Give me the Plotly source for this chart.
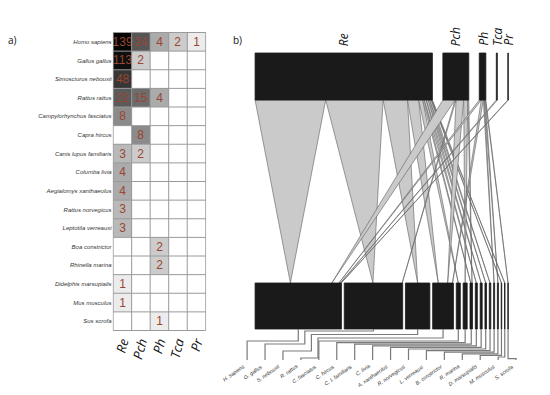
import numpy as np
import plotly.graph_objects as go

# ---------------- data ----------------
hosts = ["Homo sapiens", "Gallus gallus", "Simosciurus nebouxii", "Rattus rattus",
         "Campylorhynchus fasciatus", "Capra hircus", "Canis lupus familiaris",
         "Columba livia", "Aegialomys xanthaeolus", "Rattus norvegicus",
         "Leptotila verreauxi", "Boa constrictor", "Rhinella marina",
         "Didelphis marsupialis", "Mus musculus", "Sus scrofa"]
host_abbr = ["H. sapiens", "G. gallus", "S. nebouxii", "R. rattus", "C. fasciatus",
             "C. hircus", "C. l. familiaris", "C. livia", "A. xanthaeolus",
             "R. norvegicus", "L. verreauxi", "B. constrictor", "R. marina",
             "D. marsupialis", "M. musculus", "S. scrofa"]
groups = ["Re", "Pch", "Ph", "Tca", "Pr"]
re_vals = [139, 113, 48, 22, 8, 0, 3, 4, 4, 3, 3, 0, 0, 1, 1, 0]
pch_vals = [24, 2, 0, 15, 0, 8, 2, 0, 0, 0, 0, 0, 0, 0, 0, 0]
ph_vals = [4, 0, 0, 4, 0, 0, 0, 0, 0, 0, 0, 2, 2, 0, 0, 1]
tca_vals = [2, 0, 0, 0, 0, 0, 0, 0, 0, 0, 0, 0, 0, 0, 0, 0]
pr_vals = [1, 0, 0, 0, 0, 0, 0, 0, 0, 0, 0, 0, 0, 0, 0, 0]

M = np.array([re_vals, pch_vals, ph_vals, tca_vals, pr_vals], dtype=float).T  # hosts x groups
nH, nG = M.shape

# page is 550x395; the html body has an 8px margin, so the figure sits at (8,8)
OFF = 8
W, H = 550 - 2 * OFF, 395 - 2 * OFF


def px(xp):   # page x -> paper x
    return (xp - OFF) / W


def py(yp):   # page y -> paper y
    return 1 - (yp - OFF) / H


fig = go.Figure()

# ---------------- panel a: heatmap ----------------
z = np.where(M > 0, np.log(np.where(M > 0, M, 1)), np.nan)
txt = [[(str(int(v)) if v > 0 else "") for v in row] for row in M]
fig.add_trace(go.Heatmap(
    z=z, x=groups, y=hosts, text=txt, texttemplate="%{text}",
    textfont=dict(family="Liberation Sans, Arial", size=12, color="#9a4630"),
    colorscale=[[0, "#ececec"], [1, "#050505"]], zmin=0, zmax=np.log(139),
    showscale=False, hoverinfo="skip", xaxis="x", yaxis="y"))

# grid lines of the heatmap
for c in range(nG + 1):
    fig.add_shape(type="line", xref="x", yref="y", x0=c - 0.5, x1=c - 0.5,
                  y0=-0.5, y1=nH - 0.5, line=dict(color="#9a9a9a", width=1))
for r in range(nH + 1):
    fig.add_shape(type="line", xref="x", yref="y", x0=-0.5, x1=nG - 0.5,
                  y0=r - 0.5, y1=r - 0.5, line=dict(color="#9a9a9a", width=1))

# ---------------- panel b: bipartite web ----------------
X0, X1 = 255.0, 509.2
TOP_Y0, TOP_Y1 = 53.0, 100.0
BOT_Y0, BOT_Y1 = 283.0, 329.0
total = M.sum()
k = 0.51
free = (X1 - X0) - total * k
gtot = M.sum(axis=0)
htot = M.sum(axis=1)
gap_top = free / (nG - 1)
gap_bot = free / (nH - 1)
top_start = X0 + np.concatenate([[0], np.cumsum(gtot * k + gap_top)[:-1]])
bot_start = X0 + np.concatenate([[0], np.cumsum(htot * k + gap_bot)[:-1]])

# links (triangles: full width at the top, apex in the lower box)
top_cum = np.zeros(nG)
bot_cum = np.zeros(nH)
links = []
for j in range(nG):
    for i in range(nH):
        v = M[i, j]
        if v <= 0:
            continue
        tx0 = top_start[j] + top_cum[j] * k
        top_cum[j] += v
        tx1 = top_start[j] + top_cum[j] * k
        links.append((j, i, v, tx0, tx1))
bx = {}
for i in range(nH):
    for j in range(nG):
        v = M[i, j]
        if v <= 0:
            continue
        a = bot_start[i] + bot_cum[i] * k
        bot_cum[i] += v
        bx[(j, i)] = (a + bot_start[i] + bot_cum[i] * k) / 2
for (j, i, v, tx0, tx1) in links:
    ax = bx[(j, i)]
    fig.add_trace(go.Scatter(
        x=[tx0, tx1, ax, tx0], y=[TOP_Y1, TOP_Y1, BOT_Y0, TOP_Y1],
        mode="lines", fill="toself", fillcolor="#cacaca",
        line=dict(color="#5e5e5e", width=0.6), hoverinfo="skip",
        showlegend=False, xaxis="x2", yaxis="y2"))


# boxes
def box(x0, w, y0, y1):
    fig.add_trace(go.Scatter(
        x=[x0, x0 + w, x0 + w, x0, x0], y=[y0, y0, y1, y1, y0],
        mode="lines", fill="toself", fillcolor="#1a1a1a",
        line=dict(color="#1a1a1a", width=0.8), hoverinfo="skip",
        showlegend=False, xaxis="x2", yaxis="y2"))


for j in range(nG):
    box(top_start[j], gtot[j] * k, TOP_Y0, TOP_Y1)
for i in range(nH):
    box(bot_start[i], htot[i] * k, BOT_Y0, BOT_Y1)

# group labels (top)
annotations = []
for j in range(nG):
    annotations.append(dict(
        x=top_start[j] + gtot[j] * k / 2, y=48, xref="x2", yref="y2",
        text=groups[j], textangle=-90, showarrow=False, xanchor="center",
        yanchor="bottom",
        font=dict(family="Open Sans, Liberation Sans", size=12, color="#111",
                  style="italic")))

# leader lines to lower labels
LAB_Y = 360.0
lab_x = 247.0 + 18.0 * np.arange(nH)
cx = bot_start + htot * k / 2
for i in range(nH):
    if i == 0:
        xs = [cx[i], cx[i], lab_x[i], lab_x[i]]
        ys = [BOT_Y1, 341, 341, LAB_Y]
    elif i <= 3:
        ya = 331 + 3.5 * (i - 1)
        mx = cx[0] + 6.6 * i
        yb = 344 + 7.0 * (i - 1)
        xs = [cx[i], cx[i], mx, mx, lab_x[i], lab_x[i]]
        ys = [BOT_Y1, ya, ya, yb, yb, LAB_Y]
    else:
        yl = 341 + 1.6 * (i - 4)
        xs = [cx[i], cx[i], lab_x[i], lab_x[i]]
        ys = [BOT_Y1, yl, yl, LAB_Y]
    fig.add_trace(go.Scatter(x=xs, y=ys, mode="lines",
                             line=dict(color="#7a7a7a", width=1.2),
                             hoverinfo="skip", showlegend=False,
                             xaxis="x2", yaxis="y2"))
    annotations.append(dict(
        x=lab_x[i] + 1, y=LAB_Y + 0.5, xref="x2", yref="y2", text=host_abbr[i],
        textangle=-35, showarrow=False, xanchor="right", yanchor="top",
        font=dict(family="Liberation Sans, Arial", size=5.3, color="#333",
                  style="italic")))

# panel letters
annotations.append(dict(x=px(5), y=py(40), xref="paper", yref="paper", text="a)",
                        showarrow=False, xanchor="left", yanchor="middle",
                        font=dict(family="Open Sans", size=10, color="#111")))
annotations.append(dict(x=px(231), y=py(40), xref="paper", yref="paper", text="b)",
                        showarrow=False, xanchor="left", yanchor="middle",
                        font=dict(family="Open Sans", size=10, color="#111")))

fig.update_layout(
    width=W, height=H, autosize=False,
    margin=dict(l=0, r=0, t=0, b=0),
    paper_bgcolor="white", plot_bgcolor="white",
    showlegend=False,
    annotations=annotations,
    xaxis=dict(domain=[px(112), px(206)], anchor="y", showgrid=False, zeroline=False,
               ticks="", tickangle=-75, showline=False,
               tickfont=dict(family="Open Sans, Liberation Sans", size=13,
                             color="#111", style="italic")),
    yaxis=dict(domain=[py(331), py(32)], anchor="x", autorange="reversed",
               showgrid=False, zeroline=False, ticks="", showline=False,
               tickfont=dict(family="Liberation Sans, Arial", size=6,
                             color="#333", style="italic")),
    xaxis2=dict(domain=[px(231), 1], range=[231, 550 - OFF], anchor="y2", visible=False,
                fixedrange=True),
    yaxis2=dict(domain=[0, 1], range=[395 - OFF, OFF], anchor="x2", visible=False,
                fixedrange=True),
)

fig.write_html("out.html")
